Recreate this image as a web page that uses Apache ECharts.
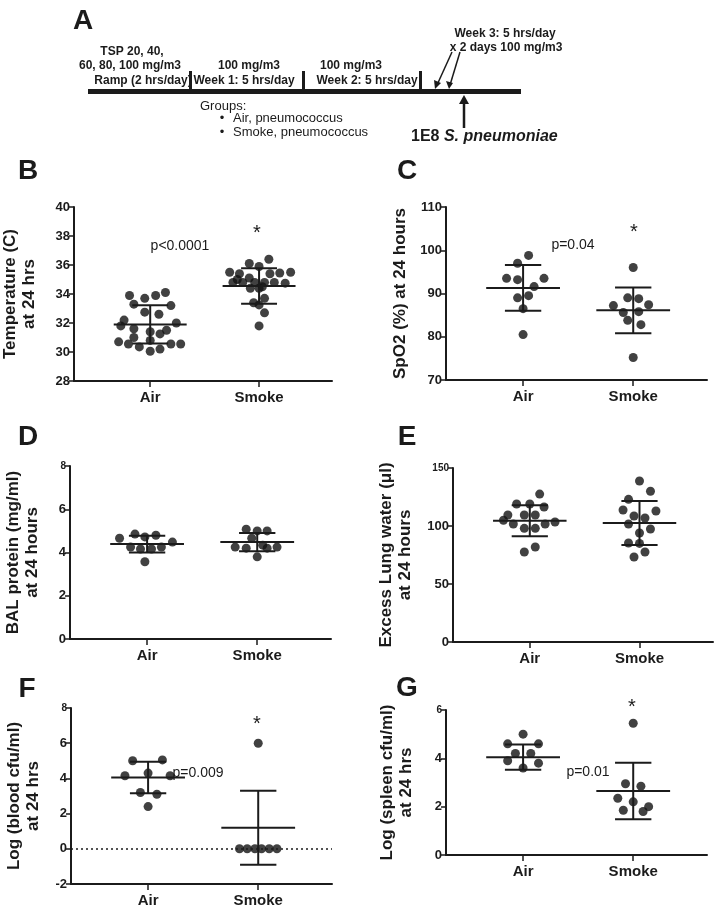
<!DOCTYPE html>
<html><head><meta charset="utf-8">
<script src="https://cdn.jsdelivr.net/npm/echarts@6/dist/echarts.min.js"></script>
<style>html,body{margin:0;padding:0;background:#fff}#c{width:717px;height:908px}</style>
</head><body><div id="c"></div>
<script>
const groups = ['Air', 'Smoke'];

// B: Temperature (C) at 24 hrs
const tempAir = [33.9,33.7,33.9,34.1,33.3,33.2,32.75,32.6,32.2,32.0,31.6,31.5,31.4,31.8,30.7,30.55,31.0,30.35,30.8,30.05,31.25,30.2,30.55,30.55];
const tempAirJit = [-0.19,-0.05,0.05,0.14,-0.15,0.19,-0.05,0.08,-0.24,0.24,-0.15,0.15,0,-0.27,-0.29,-0.2,-0.15,-0.1,0,0,0.09,0.09,0.19,0.28];
const tempSmoke = [35.5,35.4,35.0,35.9,36.1,36.4,35.4,35.45,35.5,34.8,34.8,35.1,34.8,34.5,34.8,34.8,34.75,34.4,34.4,33.7,33.4,33.25,32.7,31.8];
const tempSmokeJit = [-0.27,-0.18,-0.2,0,-0.09,0.09,0.1,0.19,0.29,-0.24,-0.15,-0.09,-0.04,0.03,0.05,0.14,0.24,-0.08,0,0.05,-0.05,0,0.05,0];
const tempMean = [31.9, 34.55];
const tempSD = [1.32, 1.22];

// C: SpO2 (%) at 24 hours
const spo2Air = [98.8,97.0,93.5,93.2,93.5,91.6,89.0,89.5,86.5,80.5];
const spo2AirJit = [0.05,-0.05,-0.15,-0.05,0.19,0.1,-0.05,0.05,0,0];
const spo2Smoke = [96.0,89.0,88.8,87.2,87.4,85.6,85.8,83.8,82.8,75.2];
const spo2SmokeJit = [0,-0.05,0.05,-0.18,0.14,-0.09,0.05,-0.05,0.07,0];
const spo2Mean = [91.3, 86.1];
const spo2SD = [5.3, 5.3];

// D: BAL protein (mg/ml) at 24 hours
const balAir = [4.66,4.85,4.72,4.8,4.48,4.25,4.16,4.16,4.25,3.57];
const balAirJit = [-0.25,-0.11,-0.02,0.08,0.23,-0.15,-0.06,0.04,0.13,-0.02];
const balSmoke = [5.08,5.0,5.0,4.66,4.25,4.2,4.34,4.2,4.25,3.8];
const balSmokeJit = [-0.1,0,0.09,-0.05,-0.2,-0.1,0.05,0.09,0.18,0];
const balMean = [4.39, 4.48];
const balSD = [0.39, 0.42];

// E: Excess Lung water (ul) at 24 hours
const waterAir = [127.5,119,119,116.4,109.5,109.5,109.5,105,101.7,98,98,101.7,103.4,77.6,81.9];
const waterAirJit = [0.09,-0.12,0,0.13,-0.2,-0.05,0.05,-0.24,-0.15,-0.05,0.05,0.14,0.23,-0.05,0.05];
const waterSmoke = [138.8,130,123,113.8,108.6,106.9,112.9,101.7,94,97.4,85.3,85,77.6,73.3];
const waterSmokeJit = [0,0.1,-0.1,-0.15,-0.05,0.05,0.15,-0.1,0,0.1,-0.1,0,0.05,-0.05];
const waterMean = [104.5, 102.6];
const waterSD = [13.3, 18.9];

// F: Log (blood cfu/ml) at 24 hrs
const bloodAir = [5.0,5.05,4.15,4.3,4.15,3.2,3.1,2.4];
const bloodAirJit = [-0.14,0.13,-0.21,0,0.2,-0.07,0.08,0];
const bloodSmoke = [6.0,0,0,0,0,0,0];
const bloodSmokeJit = [0,-0.17,-0.1,-0.03,0.03,0.1,0.17];
const bloodMean = [4.05, 1.2];
const bloodSD = [0.9, 2.1];

// G: Log (spleen cfu/ml) at 24 hrs
const spleenAir = [5.0,4.6,4.6,4.2,4.2,3.9,3.8,3.6];
const spleenAirJit = [0,-0.14,0.14,-0.07,0.07,-0.14,0.14,0];
const spleenSmoke = [5.45,2.95,2.85,2.35,2.2,2.0,1.85,1.8];
const spleenSmokeJit = [0,-0.07,0.07,-0.14,0,0.14,-0.09,0.09];
const spleenMean = [4.05, 2.65];
const spleenSD = [0.52, 1.17];

const FONT = '"Liberation Sans", Arial, sans-serif';
const INK = '#1b1b1b';

const panels = [
  {grid:{left:70, top:207, width:262, height:174}, y:[28,40,2], name:'Temperature (C)\nat 24 hrs', gap:35, small:false,
   air:tempAir, airJ:tempAirJit, smoke:tempSmoke, smokeJ:tempSmokeJit, mean:tempMean, sd:tempSD},
  {grid:{left:446, top:207, width:261, height:173}, y:[70,110,10], name:'SpO2 (%) at 24 hours', gap:36, small:false,
   air:spo2Air, airJ:spo2AirJit, smoke:spo2Smoke, smokeJ:spo2SmokeJit, mean:spo2Mean, sd:spo2SD},
  {grid:{left:70, top:466, width:261, height:173}, y:[0,8,2], name:'BAL protein (mg/ml)\nat 24 hours', gap:28, small:true,
   air:balAir, airJ:balAirJit, smoke:balSmoke, smokeJ:balSmokeJit, mean:balMean, sd:balSD},
  {grid:{left:453, top:468, width:260, height:174}, y:[0,150,50], name:'Excess Lung water (μl)\nat 24 hours', gap:38, small:true,
   air:waterAir, airJ:waterAirJit, smoke:waterSmoke, smokeJ:waterSmokeJit, mean:waterMean, sd:waterSD},
  {grid:{left:71, top:708, width:261, height:178}, y:[-2,8,2], name:'Log (blood cfu/ml)\nat 24 hrs', gap:28, small:true, zeroLine:true,
   air:bloodAir, airJ:bloodAirJit, smoke:bloodSmoke, smokeJ:bloodSmokeJit, mean:bloodMean, sd:bloodSD},
  {grid:{left:446, top:710, width:261, height:145}, y:[0,6,2], name:'Log (spleen cfu/ml)\nat 24 hrs', gap:30, small:true,
   air:spleenAir, airJ:spleenAirJit, smoke:spleenSmoke, smokeJ:spleenSmokeJit, mean:spleenMean, sd:spleenSD}
];

function renderBars(params, api) {
  const x = api.value(0), m = api.value(1), s = api.value(2);
  const c = api.coord([x, m]);
  const up = api.coord([x, m + s]);
  const lo = api.coord([x, m - s]);
  const half = api.size([0.335, 0])[0];
  const halfS = api.size([0.165, 0])[0];
  const st = {stroke: INK, lineWidth: 2};
  return {type:'group', children:[
    {type:'line', shape:{x1:c[0]-half, y1:c[1], x2:c[0]+half, y2:c[1]}, style:st},
    {type:'line', shape:{x1:up[0], y1:up[1], x2:lo[0], y2:lo[1]}, style:st},
    {type:'line', shape:{x1:up[0]-halfS, y1:up[1], x2:up[0]+halfS, y2:up[1]}, style:st},
    {type:'line', shape:{x1:lo[0]-halfS, y1:lo[1], x2:lo[0]+halfS, y2:lo[1]}, style:st}
  ]};
}

const grid = [], xAxis = [], yAxis = [], series = [];
panels.forEach((p, i) => {
  grid.push(p.grid);
  xAxis.push({
    type:'value', gridIndex:i, min:0.3, max:2.67,
    axisLine:{show:true, onZero:false, lineStyle:{color:INK, width:2}},
    axisTick:{show:true, customValues:[1,2], length:6, lineStyle:{color:INK, width:1.5}},
    axisLabel:{show:true, customValues:[1,2], margin:9, color:INK, fontFamily:FONT, fontWeight:'bold', fontSize:15,
      formatter: v => groups[Math.round(v) - 1]},
    splitLine:{show:false}
  });
  yAxis.push({
    type:'value', gridIndex:i, min:p.y[0], max:p.y[1], interval:p.y[2],
    name:p.name, nameLocation:'middle', nameGap:p.gap, nameRotate:90,
    nameTextStyle:{color:INK, fontFamily:FONT, fontWeight:'bold', fontSize:17, lineHeight:19},
    axisLine:{show:true, onZero:false, lineStyle:{color:INK, width:2}},
    axisTick:{show:true, length:5, lineStyle:{color:INK, width:1.5}},
    axisLabel:{color:INK, fontFamily:FONT, fontWeight:'bold', fontSize:13, margin:4,
      formatter: v => (p.small && v === p.y[1]) ? '{s|' + v + '}' : String(v),
      rich:{s:{fontSize:10, fontWeight:'bold', fontFamily:FONT, color:INK}}},
    splitLine:{show:false}
  });
  const pts = p.air.map((v, k) => [1 + p.airJ[k], v]).concat(p.smoke.map((v, k) => [2 + p.smokeJ[k], v]));
  const sc = {
    type:'scatter', xAxisIndex:i, yAxisIndex:i, data:pts, symbol:'circle', symbolSize:9,
    itemStyle:{color:'#111'}, z:2, silent:true
  };
  if (p.zeroLine) {
    sc.markLine = {silent:true, symbol:'none', animation:false, label:{show:false},
      lineStyle:{type:[2,3], color:INK, width:1.5}, data:[{yAxis:0}]};
  }
  series.push(sc);
  series.push({
    type:'custom', xAxisIndex:i, yAxisIndex:i, z:3, silent:true,
    data: groups.map((g, k) => [k + 1, p.mean[k], p.sd[k]]),
    renderItem: renderBars
  });
});

function txt(x, y, s, o) {
  return Object.assign({type:'text', x:x, y:y, style:Object.assign({text:s, fill:INK, font:'13px ' + FONT, align:'center', verticalAlign:'middle'}, o || {})});
}
const NARROW = '"Liberation Sans Narrow", "Arial Narrow", "Liberation Sans", sans-serif';
const letter = (x, y, s) => txt(x, y, s, {font:'bold 28px ' + FONT});
const small = (x, y, s) => txt(x, y, s, {font:'bold 12px ' + NARROW});

const graphic = [
  letter(83, 21, 'A'), letter(28, 171, 'B'), letter(407, 171, 'C'),
  letter(28, 437, 'D'), letter(407, 437, 'E'), letter(27, 689, 'F'), letter(407, 688, 'G'),
  // timeline
  {type:'rect', shape:{x:88, y:89, width:433, height:5}, style:{fill:INK}},
  {type:'rect', shape:{x:189, y:71, width:3, height:20}, style:{fill:INK}},
  {type:'rect', shape:{x:302, y:71, width:3, height:20}, style:{fill:INK}},
  {type:'rect', shape:{x:419, y:71, width:3, height:20}, style:{fill:INK}},
  {type:'line', shape:{x1:452, y1:52, x2:437, y2:85}, style:{stroke:INK, lineWidth:1.5}},
  {type:'polygon', shape:{points:[[435,89],[434,80],[441,83]]}, style:{fill:INK}},
  {type:'line', shape:{x1:460, y1:52, x2:450, y2:85}, style:{stroke:INK, lineWidth:1.5}},
  {type:'polygon', shape:{points:[[449,89],[446,81],[453,83]]}, style:{fill:INK}},
  {type:'line', shape:{x1:464, y1:128, x2:464, y2:102}, style:{stroke:INK, lineWidth:2.5}},
  {type:'polygon', shape:{points:[[464,95],[459,104],[469,104]]}, style:{fill:INK}},
  small(132, 52, 'TSP 20, 40,'),
  small(130, 66, '60, 80, 100 mg/m3'),
  small(143, 81, 'Ramp (2 hrs/day)'),
  small(249, 66, '100 mg/m3'),
  small(244, 81, 'Week 1: 5 hrs/day'),
  small(351, 66, '100 mg/m3'),
  small(367, 81, 'Week 2: 5 hrs/day'),
  small(505, 34, 'Week 3: 5 hrs/day'),
  small(506, 48, 'x 2 days 100 mg/m3'),
  txt(200, 106, 'Groups:', {align:'left', font:'13px ' + NARROW}),
  txt(222, 118, '•', {font:'13px ' + FONT}),
  txt(233, 118, 'Air, pneumococcus', {align:'left', font:'13px ' + NARROW}),
  txt(222, 132, '•', {font:'13px ' + FONT}),
  txt(233, 132, 'Smoke, pneumococcus', {align:'left', font:'13px ' + NARROW}),
  txt(411, 137, '{a|1E8 }{b|S. pneumoniae}', {align:'left', rich:{
    a:{font:'bold 16px ' + FONT, fill:INK}, b:{font:'italic bold 16px ' + FONT, fill:INK}}}),
  // annotations
  txt(180, 246, 'p<0.0001', {font:'14px ' + FONT}),
  txt(257, 233, '*', {font:'20px ' + FONT}),
  txt(573, 245, 'p=0.04', {font:'14px ' + FONT}),
  txt(634, 232, '*', {font:'20px ' + FONT}),
  txt(198, 773, 'p=0.009', {font:'14px ' + FONT}),
  txt(257, 724, '*', {font:'20px ' + FONT}),
  txt(588, 772, 'p=0.01', {font:'14px ' + FONT}),
  txt(632, 707, '*', {font:'20px ' + FONT})
];

const chart = echarts.init(document.getElementById('c'), null, {renderer:'canvas'});
chart.setOption({animation:false, backgroundColor:'#fff', textStyle:{fontFamily:FONT}, grid, xAxis, yAxis, series, graphic});
</script>
</body></html>
